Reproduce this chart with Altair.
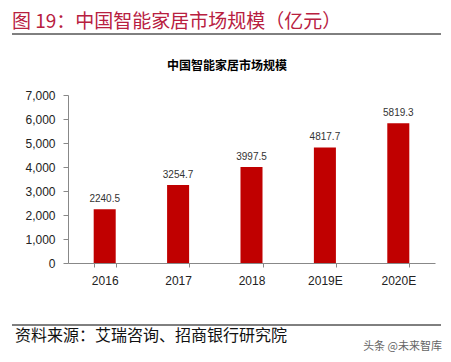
import altair as alt
import pandas as pd

years = ["2016", "2017", "2018", "2019E", "2020E"]
values = [2240.5, 3254.7, 3997.5, 4817.7, 5819.3]
y_ticks = [0, 1000, 2000, 3000, 4000, 5000, 6000, 7000]

header = "图 19：中国智能家居市场规模（亿元）"
title = "中国智能家居市场规模"
source = "资料来源：艾瑞咨询、招商银行研究院"
watermark = "头条 @未来智库"

df = pd.DataFrame({"year": years, "value": values})

FONT = "Liberation Sans, Noto Sans CJK SC"
CJK = "Noto Sans CJK SC"

x_enc = alt.X("year:N", sort=years, title=None,
              scale=alt.Scale(paddingInner=0.7, paddingOuter=0.35),
              axis=alt.Axis(labelAngle=0, tickBand="extent", tickSize=4,
                            labelPadding=8, labelFontSize=12, labelFont=FONT,
                            labelColor="#222222", domainColor="#888888",
                            tickColor="#888888"))
y_enc = alt.Y("value:Q", title=None,
              scale=alt.Scale(domain=[0, 7000], nice=False),
              axis=alt.Axis(values=y_ticks, format=",.0f", tickSize=5, labelPadding=8,
                            labelFontSize=12, labelFont=FONT, labelColor="#222222",
                            domainColor="#888888", tickColor="#888888", grid=False))

bars = alt.Chart(df).mark_bar(color="#C00000").encode(x=x_enc, y=y_enc)
labels = alt.Chart(df).mark_text(baseline="bottom", dy=-5, fontSize=10, font=FONT,
                                 color="#333333").encode(
    x=x_enc, y=y_enc, text=alt.Text("value:Q", format=".1f"))

def deco(txt, x, y, **kw):
    return alt.Chart(pd.DataFrame({"t": [txt]})).mark_text(**kw).encode(
        x=alt.value(x), y=alt.value(y), text="t:N")

hdr = deco(header, -56, -73, align="left", baseline="middle", fontSize=19,
           font=CJK, color="#B8203F")
ttl = deco(title, 159, -29, align="center", baseline="middle", fontSize=12,
           font=CJK, fontWeight="bold", color="#000000")
src = deco(source, -53, 241, align="left", baseline="middle", fontSize=16,
           font=CJK, color="#111111")
wm = deco(watermark, 374, 252, align="right", baseline="middle", fontSize=11,
          font=CJK, color="#666666")

line_df = pd.DataFrame({"k": [0]})
top_line = alt.Chart(line_df).mark_rule(color="#000000", strokeWidth=1).encode(
    x=alt.value(-56), x2=alt.value(373), y=alt.value(-61))
bot_line = alt.Chart(line_df).mark_rule(color="#000000", strokeWidth=1).encode(
    x=alt.value(-56), x2=alt.value(373), y=alt.value(230))

chart = alt.layer(bars, labels, hdr, ttl, src, wm, top_line, bot_line).properties(
    width=367, height=168,
    autosize=alt.AutoSizeParams(type="none"),
    padding={"left": 60, "top": 87, "right": 8, "bottom": 91},
    background="white",
).configure_view(stroke=None)

chart.save("out.html", embed_options={"renderer": "svg", "actions": False})
